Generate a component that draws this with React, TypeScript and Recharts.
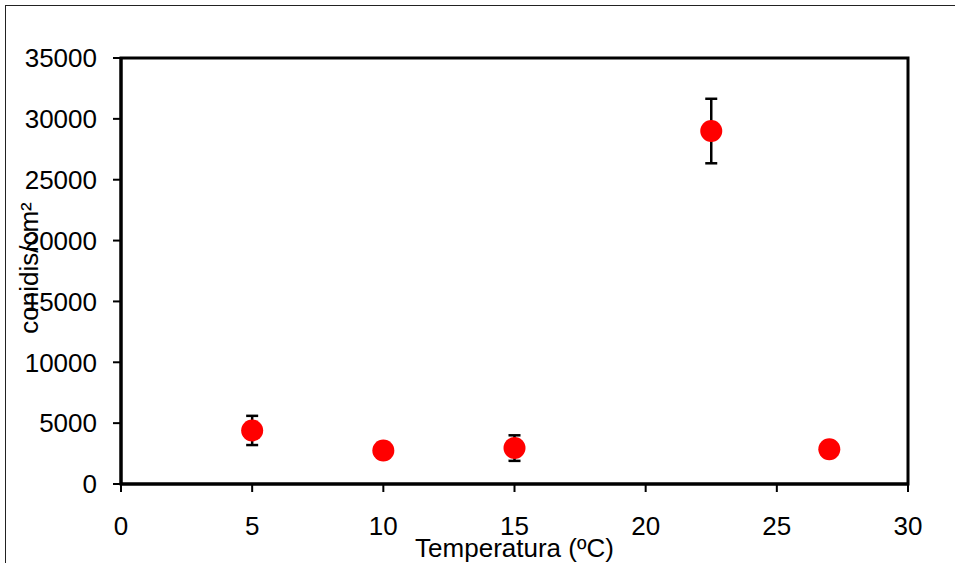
import React from 'react';
import { ScatterChart, Scatter, XAxis, YAxis, ErrorBar, ReferenceArea } from 'recharts';

const temperatures = [5, 10, 15, 22.5, 27];
const conidia = [4400, 2750, 2950, 29000, 2850];
const conidiaError = [1200, 400, 1050, 2650, 400];
const xTicks = [0, 5, 10, 15, 20, 25, 30];
const yTicks = [0, 5000, 10000, 15000, 20000, 25000, 30000, 35000];

const data = temperatures.map((t, i) => ({ x: t, y: conidia[i], err: conidiaError[i] }));

const FONT = '"Liberation Sans", Arial, sans-serif';
const tickStyle = { fill: '#000', fontSize: 26, fontFamily: FONT };

const Dot = (props: any) => {
  const { cx, cy } = props;
  return <circle cx={cx} cy={cy} r={11} fill="#ff0000" />;
};

const XLabel = (props: any) => {
  const vb = props.viewBox || {};
  return (
    <text x={vb.x + vb.width / 2} y={557} textAnchor="middle" fill="#000" fontSize={26} fontFamily={FONT}>
      Temperatura (ºC)
    </text>
  );
};

const YLabel = (props: any) => {
  const vb = props.viewBox || {};
  const cy = vb.y + vb.height / 2 - 3;
  return (
    <text transform={`translate(38,${cy}) rotate(-90)`} textAnchor="middle" fill="#000" fontSize={26} fontFamily={FONT}>
      conidis/cm²
    </text>
  );
};

export default function App() {
  return (
    <div style={{ position: 'absolute', left: 0, top: 0, width: 955, height: 568, background: '#fff' }}>
      <div
        style={{
          position: 'absolute',
          left: 5,
          top: 5,
          width: 950,
          height: 558,
          borderTop: '1px solid #222',
          borderLeft: '1px solid #222',
          boxSizing: 'border-box',
        }}
      />
      <div style={{ position: 'absolute', left: 0, top: 0 }}>
        <ScatterChart width={955} height={568} margin={{ top: 58, right: 47, bottom: 0, left: 0 }}>
          <XAxis
            type="number"
            dataKey="x"
            domain={[0, 30]}
            ticks={xTicks}
            height={84}
            tick={tickStyle}
            tickSize={8}
            tickMargin={25}
            axisLine={{ stroke: '#000', strokeWidth: 3 }}
            tickLine={{ stroke: '#000', strokeWidth: 2 }}
            label={{ content: XLabel }}
          />
          <YAxis
            type="number"
            dataKey="y"
            domain={[0, 35000]}
            ticks={yTicks}
            width={121}
            tick={tickStyle}
            tickSize={8}
            tickMargin={16}
            axisLine={{ stroke: '#000', strokeWidth: 3 }}
            tickLine={{ stroke: '#000', strokeWidth: 2 }}
            label={{ content: YLabel }}
          />
          <ReferenceArea x1={0} x2={30} y1={0} y2={35000} fill="none" stroke="#000" strokeWidth={3} ifOverflow="visible" />
          <Scatter data={data} shape={Dot} isAnimationActive={false}>
            <ErrorBar dataKey="err" direction="y" width={6} stroke="#000" strokeWidth={2.5} />
          </Scatter>
        </ScatterChart>
      </div>
    </div>
  );
}
